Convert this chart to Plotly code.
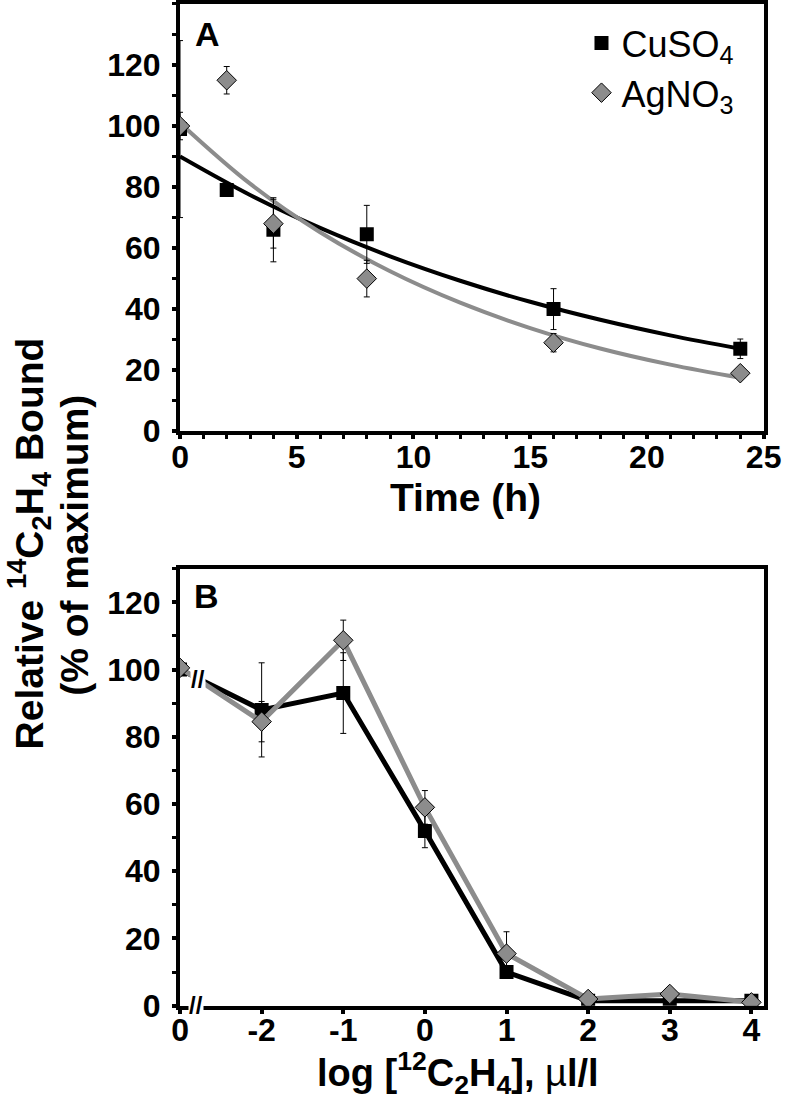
import plotly.graph_objects as go

# ---------------- Data ----------------
# Panel A: time course
time_h = [0, 2, 4, 8, 16, 24]
cuso4_a = [99, 79, 66, 64.5, 40, 27]
cuso4_a_err = [29, 1, 10.5, 9.5, 6.7, 3.2]
agno3_a = [100, 115, 68, 50, 29, 19]
agno3_a_err = [4.5, 4.5, 8, 6, 3, 1]

# fitted decay curves
fit_t = [0, 3, 6, 9, 12, 15, 18, 21, 24]
cuso4_fit = [90, 77.4, 66.6, 57.3, 49.3, 42.4, 36.5, 31.4, 27.0]
agno3_fit = [101, 81.1, 65.2, 52.4, 42.1, 33.8, 27.1, 21.8, 17.5]

# Panel B: competition with 12C2H4
conc_labels = ["0", "-2", "-1", "0", "1", "2", "3", "4"]
cuso4_b = [100, 88, 93, 52, 10, 1.5, 1.5, 1.5]
cuso4_b_err = [0, 14, 12, 5, 1, 0.5, 0.5, 0.5]
agno3_b = [100.5, 84.5, 108.7, 59, 15.5, 2, 3.5, 1]
agno3_b_err = [0, 6, 6, 5, 6.5, 0.5, 0.5, 0.5]

# ---------------- Styles ----------------
BLACK = "#000000"
GRAY = "#8c8c8c"
FONT = "Liberation Sans"
W, H = 800, 1118

conc_pos = list(range(len(conc_labels)))

fig = go.Figure()

err_style = dict(type="data", color=BLACK, thickness=1, width=3)

# Panel A curves
fig.add_trace(go.Scatter(x=fit_t, y=cuso4_fit, mode="lines", line=dict(color=BLACK, width=4, shape="spline"),
                         showlegend=False, xaxis="x", yaxis="y"))
fig.add_trace(go.Scatter(x=fit_t, y=agno3_fit, mode="lines", line=dict(color=GRAY, width=4, shape="spline"),
                         showlegend=False, xaxis="x", yaxis="y"))
# Panel A points
fig.add_trace(go.Scatter(x=time_h, y=cuso4_a, mode="markers", name="CuSO<sub>4</sub>",
                         marker=dict(symbol="square", size=14, color=BLACK),
                         error_y=dict(array=cuso4_a_err, **err_style), xaxis="x", yaxis="y"))
fig.add_trace(go.Scatter(x=time_h, y=agno3_a, mode="markers", name="AgNO<sub>3</sub>",
                         marker=dict(symbol="diamond", size=15, color=GRAY, line=dict(color=BLACK, width=1)),
                         error_y=dict(array=agno3_a_err, **err_style), xaxis="x", yaxis="y"))

# Panel B
fig.add_trace(go.Scatter(x=conc_pos, y=cuso4_b, mode="lines+markers", showlegend=False,
                         line=dict(color=BLACK, width=5),
                         marker=dict(symbol="square", size=14, color=BLACK),
                         error_y=dict(array=cuso4_b_err, **err_style), xaxis="x2", yaxis="y2"))
fig.add_trace(go.Scatter(x=conc_pos, y=agno3_b, mode="lines+markers", showlegend=False,
                         line=dict(color=GRAY, width=5),
                         marker=dict(symbol="diamond", size=15, color=GRAY, line=dict(color=BLACK, width=1)),
                         error_y=dict(array=agno3_b_err, **err_style), xaxis="x2", yaxis="y2"))

tickfont = dict(family=FONT, size=32, color=BLACK, weight="bold")
axis_common = dict(showline=True, linecolor=BLACK, linewidth=4, mirror=True, ticks="outside",
                   ticklen=4, tickwidth=4, tickcolor=BLACK, showgrid=False, zeroline=False,
                   tickfont=tickfont)

def px_x(p):
    return p / W

def px_y(p):
    return 1 - p / H

minor_y = dict(dtick=10, ticks="outside", ticklen=4, tickwidth=3, tickcolor=BLACK)

fig.update_layout(
    width=W, height=H, margin=dict(l=0, r=0, t=0, b=0),
    plot_bgcolor="white", paper_bgcolor="white",
    xaxis=dict(domain=[px_x(177), px_x(781)], range=[0, 25], dtick=5, anchor="y",
               minor=dict(dtick=1, ticks="outside", ticklen=4, tickwidth=3, tickcolor=BLACK),
               **axis_common),
    yaxis=dict(domain=[px_y(437), px_y(2)], range=[0, 140], tickvals=[0, 20, 40, 60, 80, 100, 120],
               anchor="x", minor=minor_y, **axis_common),
    xaxis2=dict(domain=[px_x(177), px_x(781)], range=[0, 7.15], tickvals=conc_pos, ticktext=conc_labels,
                anchor="y2", **axis_common),
    yaxis2=dict(domain=[px_y(1022), px_y(577)], range=[0, 130], tickvals=[0, 20, 40, 60, 80, 100, 120],
                anchor="x2", minor=minor_y, **axis_common),
    legend=dict(x=0.945, y=0.99, xanchor="right", yanchor="top", bgcolor="rgba(0,0,0,0)",
                font=dict(family=FONT, size=36, color=BLACK), itemsizing="trace",
                tracegroupgap=0, itemwidth=30),
    showlegend=True,
)
# pull the x tick labels closer to the axis, push the y tick labels a bit away
fig.layout.xaxis.ticklabelstandoff = -10
fig.layout.xaxis2.ticklabelstandoff = -11
fig.layout.yaxis.ticklabelstandoff = 5
fig.layout.yaxis2.ticklabelstandoff = 5

annots = [
    dict(text="<b>A</b>", xref="x", yref="y", x=1.16, y=130, showarrow=False, xanchor="center",
         yanchor="middle", font=dict(family=FONT, size=34, color=BLACK)),
    dict(text="<b>B</b>", xref="x2", yref="y2", x=0.33, y=122, showarrow=False, xanchor="center",
         yanchor="middle", font=dict(family=FONT, size=34, color=BLACK)),
    dict(text="<b>Time (h)</b>", xref="paper", yref="paper", x=px_x(472), y=px_y(505), showarrow=False,
         xanchor="center", yanchor="middle", font=dict(family=FONT, size=39, color=BLACK)),
    dict(text="<b>log [<sup>12</sup>C<sub>2</sub>H<sub>4</sub>], </b>\u00b5<b>l/l</b>", xref="paper", yref="paper",
         x=px_x(465), y=px_y(1090), showarrow=False, xanchor="center", yanchor="middle",
         font=dict(family=FONT, size=38, color=BLACK)),
    dict(text="<b>Relative <sup>14</sup>C<sub>2</sub>H<sub>4</sub> Bound</b>",
         xref="paper", yref="paper", x=px_x(21), y=px_y(551), showarrow=False, textangle=-90,
         xanchor="center", yanchor="middle",
         font=dict(family=FONT, size=39, color=BLACK)),
    dict(text="<b>(% of maximum)</b>",
         xref="paper", yref="paper", x=px_x(67), y=px_y(553), showarrow=False, textangle=-90,
         xanchor="center", yanchor="middle",
         font=dict(family=FONT, size=39, color=BLACK)),
    dict(text="<b>//</b>", xref="x2", yref="y2", x=0.2, y=0, showarrow=False, bgcolor="white",
         font=dict(family=FONT, size=24, color=BLACK), borderpad=0),
    dict(text="<b>//</b>", xref="x2", yref="y2", x=0.22, y=97, showarrow=False, bgcolor="white",
         font=dict(family=FONT, size=24, color=BLACK), borderpad=0),
]
fig.update_layout(annotations=annots)

fig.write_html(
    "out.html",
    config={"displayModeBar": False},
    post_script=("document.documentElement.style.margin='0px';document.body.style.margin='0px';"
                 "document.documentElement.style.overflow='hidden';document.body.style.overflow='hidden';"),
)
